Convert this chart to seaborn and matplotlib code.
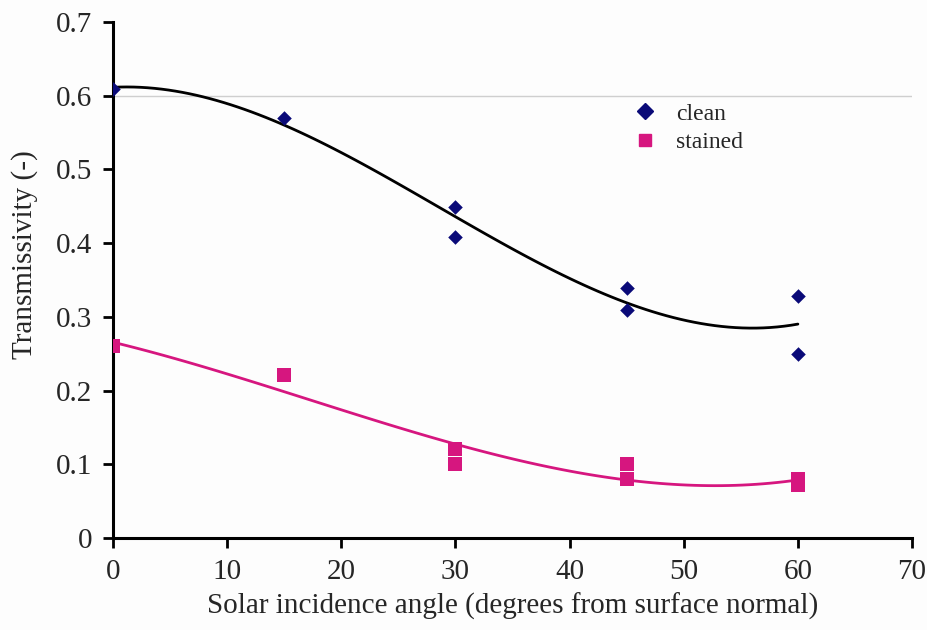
import matplotlib
matplotlib.use("Agg")
import matplotlib.pyplot as plt
from matplotlib.lines import Line2D
import seaborn as sns
import pandas as pd

angles = [0, 15, 30, 30, 45, 45, 60, 60]
clean = [0.609, 0.570, 0.449, 0.408, 0.339, 0.309, 0.328, 0.250]
stained = [0.260, 0.221, 0.121, 0.100, 0.100, 0.080, 0.080, 0.072]
x_ticks = [0, 10, 20, 30, 40, 50, 60, 70]
y_ticks = [0, 0.1, 0.2, 0.3, 0.4, 0.5, 0.6, 0.7]
y_tick_labels = ["0", "0.1", "0.2", "0.3", "0.4", "0.5", "0.6", "0.7"]

df = pd.DataFrame({"angle": angles, "clean": clean, "stained": stained})

sns.set_style("white")
plt.rcParams["font.family"] = ["Liberation Serif", "DejaVu Serif"]

NAVY = "#0a0a78"
MAGENTA = "#d6167f"

fig = plt.figure(figsize=(9.28, 6.3), dpi=100)
fig.patch.set_facecolor("#fdfdfd")
ax = fig.add_axes([0.1218, 0.146, 0.861, 0.819])
ax.set_facecolor("#fdfdfd")

ax.axhline(0.6, color="#cfcfcf", lw=1.0, zorder=0)

sns.regplot(data=df, x="angle", y="clean", order=3, ci=None, ax=ax,
            marker="D", truncate=True,
            scatter_kws={"color": NAVY, "s": 55, "zorder": 3, "linewidths": 0, "alpha": 1},
            line_kws={"color": "black", "lw": 2.0, "zorder": 2})
sns.regplot(data=df, x="angle", y="stained", order=3, ci=None, ax=ax,
            marker="s", truncate=True,
            scatter_kws={"color": MAGENTA, "s": 90, "zorder": 3, "linewidths": 0, "alpha": 1},
            line_kws={"color": MAGENTA, "lw": 2.0, "zorder": 2})

ax.set_xlim(0, 70)
ax.set_ylim(0, 0.7)
ax.set_xticks(x_ticks)
ax.set_yticks(y_ticks)
ax.set_yticklabels(y_tick_labels)
ax.tick_params(axis="both", which="both", direction="out", length=7, width=2,
               labelsize=21, color="black", bottom=True, left=True, pad=8)
for s in ["top", "right"]:
    ax.spines[s].set_visible(False)
for s in ["left", "bottom"]:
    ax.spines[s].set_color("black")
    ax.spines[s].set_linewidth(2.2)

ax.set_xlabel("Solar incidence angle (degrees from surface normal)", fontsize=21, labelpad=6)
ax.set_ylabel("Transmissivity (-)", fontsize=21, labelpad=10)
ax.yaxis.set_label_coords(-0.094, 0.55)

handles = [
    Line2D([], [], marker="D", color=NAVY, ls="none", markersize=8),
    Line2D([], [], marker="s", color=MAGENTA, ls="none", markersize=9),
]
ax.legend(handles, ["clean", "stained"], loc="upper left", bbox_to_anchor=(0.625, 0.884),
          frameon=False, fontsize=17, handletextpad=0.8, labelspacing=0.3,
          handlelength=1.0)

fig.savefig("out.png", dpi=100, facecolor=fig.get_facecolor())
